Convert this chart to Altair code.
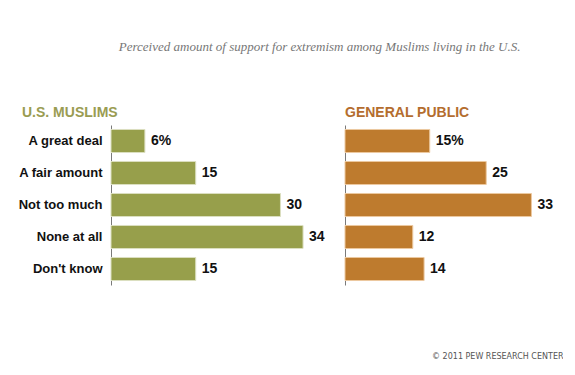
import altair as alt
import pandas as pd

categories = ["A great deal", "A fair amount", "Not too much", "None at all", "Don't know"]
muslims = [6, 15, 30, 34, 15]
general = [15, 25, 33, 12, 14]

title_text = "Perceived amount of support for extremism among Muslims living in the U.S."
left_title = "U.S. MUSLIMS"
right_title = "GENERAL PUBLIC"
footer = "\u00a9 2011 PEW RESEARCH CENTER"


def make_labels(vals):
    return [f"{v}%" if i == 0 else str(v) for i, v in enumerate(vals)]


df_m = pd.DataFrame({"cat": categories, "value": muslims, "label": make_labels(muslims)})
df_g = pd.DataFrame({"cat": categories, "value": general, "label": make_labels(general)})

FONT = "Liberation Sans"
W = 209
H = 160


def panel(df, color, stroke, title, title_color, left):
    yscale = alt.Scale(paddingInner=0.28, paddingOuter=0.14)
    if left:
        yaxis = alt.Axis(labels=True, ticks=False, domain=True, domainColor="#7a7a7a",
                         labelFont=FONT, labelFontSize=13, labelFontWeight="bold",
                         labelColor="#111111", labelPadding=9, title=None)
        xaxis = None
    else:
        yaxis = alt.Axis(labels=False, ticks=False, domain=True, domainColor="#7a7a7a", title=None)
        xaxis = alt.Axis(labels=False, ticks=False, domain=False, grid=False, title=footer,
                         titleFont="DejaVu Sans", titleFontSize=8, titleFontWeight="normal",
                         titleColor="#555555", titleAnchor="end", titleAlign="right",
                         titleX=W + 9, titleY=71, titleBaseline="middle")
    y = alt.Y("cat:N", sort=categories, scale=yscale, axis=yaxis)
    x = alt.X("value:Q", scale=alt.Scale(domain=[0, 37]), axis=xaxis)
    bars = alt.Chart(df).mark_bar(color=color, stroke=stroke, strokeWidth=1).encode(x=x, y=y)
    text = alt.Chart(df).mark_text(align="left", dx=6, font=FONT, fontSize=14,
                                   fontWeight="bold", color="#111111").encode(x=x, y=y, text="label:N")
    return alt.layer(bars, text).properties(
        width=W, height=H,
        title=alt.TitleParams(title, anchor="start", frame="group", dx=(-89 if left else 0),
                              font=FONT, fontSize=14, fontWeight="bold", color=title_color, offset=5),
    )


left = panel(df_m, "#979F4B", "#dcdfc0", left_title, "#9a9c52", True)
right = panel(df_g, "#BE7B2E", "#ecc9a0", right_title, "#b46d2e", False)

chart = alt.hconcat(left, right, spacing=25, bounds="flush").properties(
    title=alt.TitleParams(title_text, font="Liberation Serif", fontStyle="italic", fontSize=13,
                          fontWeight="normal", color="#777777", anchor="middle", offset=52, dx=29),
    padding={"top": 33, "left": 10, "right": 0, "bottom": 5},
    background="white",
).configure_view(strokeWidth=0, stroke="transparent")

chart.save("out.html", embed_options={"renderer": "svg", "actions": False})
